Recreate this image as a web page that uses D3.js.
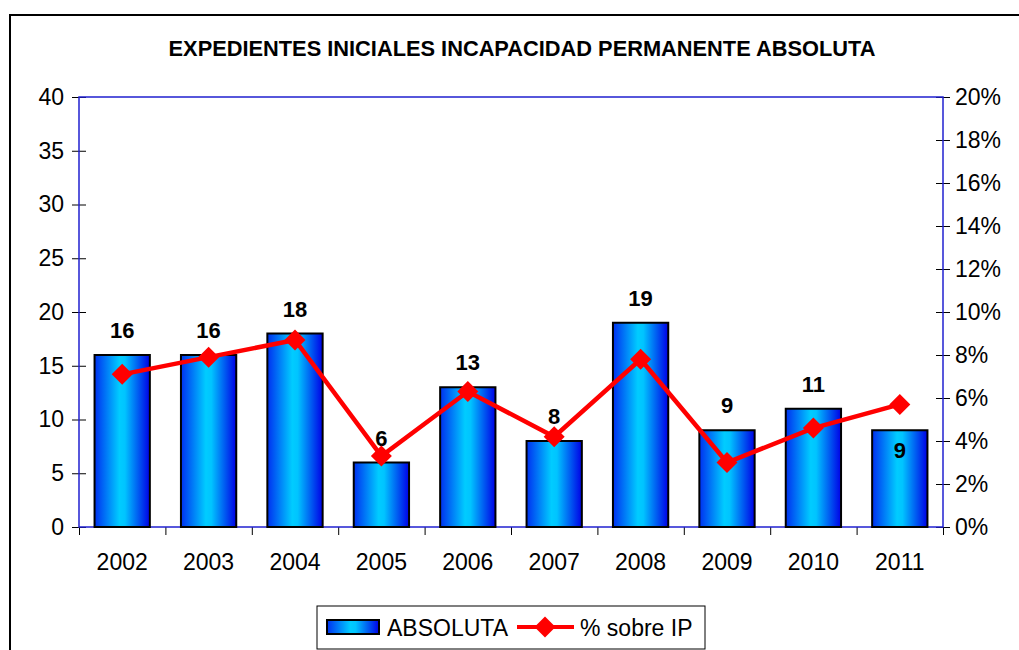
<!DOCTYPE html>
<html>
<head>
<meta charset="utf-8">
<script src="https://cdn.jsdelivr.net/npm/d3@7"></script>
<style>
  body { margin: 0; background: #fff; }
  svg text { font-family: "Liberation Sans", Arial, sans-serif; }
</style>
</head>
<body>
<div class="viz"></div>
<script>
var years = ["2002", "2003", "2004", "2005", "2006", "2007", "2008", "2009", "2010", "2011"];
var absoluta = [16, 16, 18, 6, 13, 8, 19, 9, 11, 9];
var pctSobreIP = [7.1, 7.9, 8.7, 3.3, 6.3, 4.2, 7.8, 3.0, 4.6, 5.7];
var leftTicks = [0, 5, 10, 15, 20, 25, 30, 35, 40];
var rightTicks = [0, 2, 4, 6, 8, 10, 12, 14, 16, 18, 20];

var width = 1019, height = 650;
var plot = { left: 79, right: 943, top: 97, bottom: 527 };
var fs = 23;

var svg = d3.select(".viz").append("svg").attr("width", width).attr("height", height);

// gradient for the bars
var grad = svg.append("defs").append("linearGradient").attr("id", "barGrad")
  .attr("x1", "0%").attr("x2", "100%").attr("y1", "0%").attr("y2", "0%");
grad.append("stop").attr("offset", "0%").attr("stop-color", "#0030f0");
grad.append("stop").attr("offset", "45%").attr("stop-color", "#00ccff");
grad.append("stop").attr("offset", "55%").attr("stop-color", "#00c4ff");
grad.append("stop").attr("offset", "100%").attr("stop-color", "#0000e6");

// outer frame
svg.append("rect").attr("x", 10).attr("y", 15).attr("width", 1020).attr("height", 650)
  .attr("fill", "none").attr("stroke", "#000").attr("stroke-width", 2);

svg.append("text").attr("x", 522).attr("y", 56).attr("text-anchor", "middle")
  .attr("font-size", 21.8).attr("font-weight", "bold")
  .text("EXPEDIENTES INICIALES INCAPACIDAD PERMANENTE ABSOLUTA");

var x = d3.scaleBand().domain(years).range([plot.left, plot.right]).paddingInner(0.36).paddingOuter(0.18);
var y = d3.scaleLinear().domain([0, 40]).range([plot.bottom, plot.top]);
var y2 = d3.scaleLinear().domain([0, 20]).range([plot.bottom, plot.top]);
var xb = d3.scaleLinear().domain([0, years.length]).range([plot.left, plot.right]);

// left axis
var gl = svg.append("g").attr("transform", "translate(" + plot.left + ",0)")
  .call(d3.axisLeft(y).tickValues(leftTicks).tickSize(7).tickPadding(8));
gl.selectAll(".tick line").attr("x2", 7).attr("x1", -7).attr("stroke", "#000");
gl.select(".domain").remove();
gl.selectAll("text").attr("font-size", fs).attr("fill", "#000").attr("font-family", "Liberation Sans, Arial, sans-serif");

// right axis
var gr = svg.append("g").attr("transform", "translate(" + plot.right + ",0)")
  .call(d3.axisRight(y2).tickValues(rightTicks).tickFormat(function (d) { return d + "%"; }).tickSize(7).tickPadding(5));
gr.selectAll(".tick line").attr("x1", -7).attr("x2", 7).attr("stroke", "#000");
gr.select(".domain").remove();
gr.selectAll("text").attr("font-size", fs).attr("fill", "#000").attr("font-family", "Liberation Sans, Arial, sans-serif");

// bottom axis: ticks at category boundaries
var gb = svg.append("g").attr("transform", "translate(0," + plot.bottom + ")")
  .call(d3.axisBottom(xb).tickValues(d3.range(0, years.length + 1)).tickSize(8).tickFormat(""));
gb.select(".domain").remove();
gb.selectAll(".tick line").attr("stroke", "#000");
svg.append("g").selectAll("text").data(years).enter().append("text")
  .attr("x", function (d) { return x(d) + x.bandwidth() / 2; })
  .attr("y", 570).attr("text-anchor", "middle").attr("font-size", fs)
  .text(function (d) { return d; });

// plot border (blue)
svg.append("rect").attr("x", plot.left).attr("y", plot.top)
  .attr("width", plot.right - plot.left).attr("height", plot.bottom - plot.top)
  .attr("fill", "none").attr("stroke", "#2020d0").attr("stroke-width", 1.5);

// bars
svg.append("g").selectAll("rect").data(absoluta).enter().append("rect")
  .attr("x", function (d, i) { return x(years[i]); })
  .attr("y", function (d) { return y(d); })
  .attr("width", x.bandwidth())
  .attr("height", function (d) { return y(0) - y(d); })
  .attr("fill", "url(#barGrad)").attr("stroke", "#000").attr("stroke-width", 2);

// bar labels (last one sits inside its bar)
svg.append("g").selectAll("text").data(absoluta).enter().append("text")
  .attr("x", function (d, i) { return x(years[i]) + x.bandwidth() / 2; })
  .attr("y", function (d, i) { return i === absoluta.length - 1 ? y(d) + 28 : y(d) - 17; })
  .attr("text-anchor", "middle").attr("font-size", 22).attr("font-weight", "bold")
  .text(function (d) { return d; });

// line
var line = d3.line()
  .x(function (d, i) { return x(years[i]) + x.bandwidth() / 2; })
  .y(function (d) { return y2(d); });
svg.append("path").datum(pctSobreIP).attr("d", line)
  .attr("fill", "none").attr("stroke", "#ff0000").attr("stroke-width", 4.5);
var diamond = "M0,-10.5L10.5,0L0,10.5L-10.5,0Z";
svg.append("g").selectAll("path").data(pctSobreIP).enter().append("path")
  .attr("d", diamond)
  .attr("transform", function (d, i) { return "translate(" + (x(years[i]) + x.bandwidth() / 2) + "," + y2(d) + ")"; })
  .attr("fill", "#ff0000");

// legend
var lg = svg.append("g");
lg.append("rect").attr("x", 317).attr("y", 606).attr("width", 388).attr("height", 43)
  .attr("fill", "#fff").attr("stroke", "#000").attr("stroke-width", 1);
lg.append("rect").attr("x", 327).attr("y", 620).attr("width", 52).attr("height", 14)
  .attr("fill", "url(#barGrad)").attr("stroke", "#000").attr("stroke-width", 2);
lg.append("text").attr("x", 387).attr("y", 636).attr("font-size", fs).text("ABSOLUTA");
lg.append("line").attr("x1", 517).attr("x2", 574).attr("y1", 627).attr("y2", 627)
  .attr("stroke", "#ff0000").attr("stroke-width", 4);
lg.append("path").attr("d", diamond).attr("transform", "translate(545,627)").attr("fill", "#ff0000");
lg.append("text").attr("x", 580).attr("y", 636).attr("font-size", fs).text("% sobre IP");
</script>
</body>
</html>
